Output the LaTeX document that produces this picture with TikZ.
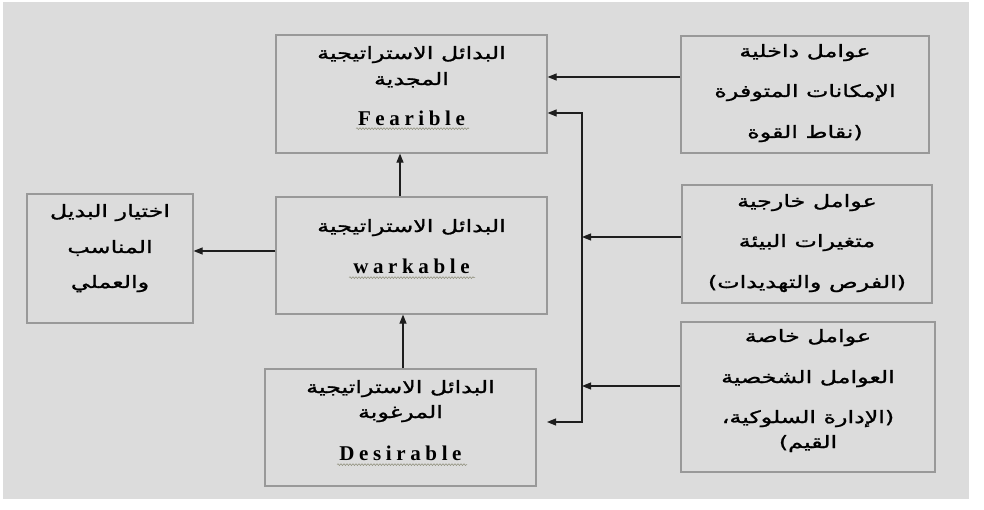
\documentclass[tikz,border=0pt]{standalone}
\usepackage{fontspec}
\setmainfont{Liberation Serif}
\newfontfamily\arabicfont[Script=Arabic,FakeStretch=1.4,FakeBold=1.2]{DejaVu Sans}
\newfontfamily\latinfont[LetterSpace=22]{Liberation Serif}
\TeXXeTstate=1
\usetikzlibrary{arrows.meta,decorations.pathmorphing,calc}

\definecolor{bg}{HTML}{DCDCDC}
\definecolor{boxgray}{HTML}{999999}
\definecolor{linec}{HTML}{1E1E1E}
\definecolor{squigc}{HTML}{8C8C78}

% Arabic type
\newcommand\arf{\fontsize{17}{20}\arabicfont}
% Latin bold term
\newcommand\LT[1]{{\fontsize{21}{23}\latinfont\bfseries #1}}
% one text line whose baseline sits #1 below the previous one
\newcommand\tline[2]{\vspace*{#1}\leavevmode\smash{#2}\par}
% fixed-size text block: height, width, lines
\newcommand\boxtext[3]{\begin{minipage}[c][#1][t]{#2}\centering
  \baselineskip=0pt\lineskip=0pt\lineskiplimit=-\maxdimen #3\end{minipage}}

\tikzset{
  box/.style={draw=boxgray, line width=1.2pt, inner sep=0pt},
  conn/.style={draw=linec, line width=1.1pt},
  >={Triangle[length=9pt,width=7pt]},
  squig/.style={draw=squigc, line width=0.5pt,
    decorate, decoration={snake, amplitude=0.9pt, segment length=3pt}},
}

\begin{document}
\begin{tikzpicture}[x=1pt,y=-1pt]
  \useasboundingbox (0,0) rectangle (984,510);
  \fill[white] (0,0) rectangle (984,510);
  \fill[bg] (3,2) rectangle (969,499);

  % strategic alternatives
  \node[box] (fea) at (411.5,94) {\boxtext{118pt}{271pt}{%
    \tline{24pt}{\arf\beginR البدائل الاستراتيجية\endR}%
    \tline{26pt}{\arf\beginR المجدية\endR}%
    \tline{41pt}{\LT{Fearible}}}};
  \node[box] (wrk) at (411.5,255.5) {\boxtext{117pt}{271pt}{%
    \tline{35pt}{\arf\beginR البدائل الاستراتيجية\endR}%
    \tline{42pt}{\LT{warkable}}}};
  \node[box] (des) at (400.5,427.5) {\boxtext{117pt}{271pt}{%
    \tline{24pt}{\arf\beginR البدائل الاستراتيجية\endR}%
    \tline{25pt}{\arf\beginR المرغوبة\endR}%
    \tline{42pt}{\LT{Desirable}}}};

  % final choice
  \node[box] (cho) at (110,258.5) {\boxtext{129pt}{166pt}{%
    \tline{23pt}{\arf\beginR اختيار البديل\endR}%
    \tline{36pt}{\arf\beginR المناسب\endR}%
    \tline{35pt}{\arf\beginR والعملي\endR}}};

  % influencing factors
  \node[box] (f1) at (805,94.5) {\boxtext{117pt}{248pt}{%
    \tline{21pt}{\arf\beginR عوامل داخلية\endR}%
    \tline{40pt}{\arf\beginR الإمكانات المتوفرة\endR}%
    \tline{41pt}{\arf\beginR (نقاط القوة\endR}}};
  \node[box] (f2) at (807,244) {\boxtext{118pt}{250pt}{%
    \tline{22pt}{\arf\beginR عوامل خارجية\endR}%
    \tline{40pt}{\arf\beginR متغيرات البيئة\endR}%
    \tline{41pt}{\arf\beginR (الفرص والتهديدات)\endR}}};
  \node[box] (f3) at (808,397) {\boxtext{150pt}{254pt}{%
    \tline{20pt}{\arf\beginR عوامل خاصة\endR}%
    \tline{41pt}{\arf\beginR العوامل الشخصية\endR}%
    \tline{40pt}{\arf\beginR (الإدارة السلوكية،\endR}%
    \tline{25pt}{\arf\beginR القيم)\endR}}};

  % spelling marks under the Latin terms
  \draw[squig] ($(fea.south)+(-55.5,-25)$) -- ++(113,0);
  \draw[squig] ($(wrk.south)+(-62.5,-37)$) -- ++(126,0);
  \draw[squig] ($(des.south)+(-63.5,-22)$) -- ++(130,0);

  % collecting bus on the right
  \coordinate (busT) at (582,113);
  \coordinate (busB) at (582,422);
  \coordinate (desIn) at (547,422);
  \coordinate (j2) at (582,237);
  \coordinate (j3) at (582,386);

  \draw[conn,<->] (fea.east |- busT) -- (busT) -- (busB) -- (desIn);
  \draw[conn,->] (f2.west |- j2) -- (j2);
  \draw[conn,->] (f3.west |- j3) -- (j3);
  \draw[conn,->] (f1.west |- 0,77) -- (fea.east |- 0,77);

  % flow between the alternatives
  \draw[conn,->] (wrk.north -| 400,0) -- (fea.south -| 400,0);
  \draw[conn,->] (des.north -| 403,0) -- (wrk.south -| 403,0);
  \draw[conn,->] (wrk.west |- 0,251) -- (cho.east |- 0,251);
\end{tikzpicture}
\end{document}
